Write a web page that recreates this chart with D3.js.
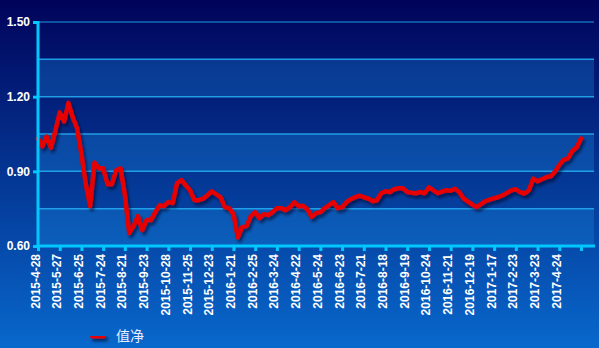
<!DOCTYPE html>
<html>
<head>
<meta charset="utf-8">
<script src="https://cdn.jsdelivr.net/npm/d3@7"></script>
<style>
  body { margin: 0; padding: 0; overflow: hidden; }
  svg { display: block; }
</style>
</head>
<body>
<div id="chart"></div>
<script>
// ******************************DATA*******************************************
// tick labels (one every 5 points)
var tickLabels = ["2015-4-28", "2015-5-27", "2015-6-25", "2015-7-24", "2015-8-21",
  "2015-9-23", "2015-10-28", "2015-11-25", "2015-12-23", "2016-1-21",
  "2016-2-25", "2016-3-24", "2016-4-22", "2016-5-24", "2016-6-23",
  "2016-7-21", "2016-8-18", "2016-9-19", "2016-10-24", "2016-11-21",
  "2016-12-19", "2017-1-17", "2017-2-23", "2017-3-23", "2017-4-24"];

// net value series
var netValues = [
  1.032, 1.000, 1.040, 0.995, 1.064, 1.137, 1.100, 1.175, 1.117, 1.072,
  0.968, 0.848, 0.760, 0.935, 0.912, 0.912, 0.848, 0.848, 0.904, 0.912,
  0.804, 0.652, 0.680, 0.720, 0.664, 0.704, 0.704, 0.736, 0.764, 0.760,
  0.777, 0.772, 0.852, 0.865, 0.844, 0.824, 0.784, 0.784, 0.790, 0.804,
  0.820, 0.808, 0.796, 0.756, 0.752, 0.728, 0.635, 0.676, 0.680, 0.720,
  0.736, 0.712, 0.728, 0.724, 0.736, 0.752, 0.752, 0.744, 0.756, 0.776,
  0.760, 0.762, 0.748, 0.717, 0.732, 0.736, 0.752, 0.764, 0.776, 0.752,
  0.756, 0.776, 0.788, 0.796, 0.802, 0.796, 0.791, 0.780, 0.784, 0.812,
  0.820, 0.817, 0.828, 0.832, 0.832, 0.817, 0.814, 0.812, 0.817, 0.812,
  0.836, 0.824, 0.812, 0.818, 0.824, 0.822, 0.830, 0.816, 0.790, 0.778,
  0.766, 0.757, 0.768, 0.780, 0.786, 0.792, 0.797, 0.804, 0.814, 0.824,
  0.828, 0.816, 0.811, 0.824, 0.871, 0.860, 0.868, 0.876, 0.880, 0.898,
  0.926, 0.946, 0.952, 0.982, 0.997, 1.032];

var yTickValues = [0.60, 0.90, 1.20, 1.50];
var gridValues = [0.60, 0.75, 0.90, 1.05, 1.20, 1.35, 1.50];
var legendLabel = "值净";

// ***************************CANVAS SET UP*************************************
var svgWidth = 599,
    svgHeight = 348;

var svg = d3.select("#chart")
  .append("svg")
    .attr("width", svgWidth)
    .attr("height", svgHeight);

var defs = svg.append("defs");

// background gradient: navy at the top, blue at the bottom
var bg = defs.append("linearGradient")
  .attr("id", "bgGrad")
  .attr("x1", 0).attr("y1", 0).attr("x2", 0).attr("y2", 1);
bg.append("stop").attr("offset", "0%").attr("stop-color", "#00035a");
bg.append("stop").attr("offset", "100%").attr("stop-color", "#0868cc");

// drop shadow for the line (user space so flat shapes keep it too)
var shadow = defs.append("filter")
  .attr("id", "shadow")
  .attr("filterUnits", "userSpaceOnUse")
  .attr("x", 0).attr("y", 0)
  .attr("width", svgWidth).attr("height", svgHeight);
shadow.append("feDropShadow")
  .attr("dx", 2).attr("dy", 3)
  .attr("stdDeviation", 1.6)
  .attr("flood-color", "#000020")
  .attr("flood-opacity", 0.55);

svg.append("rect")
  .attr("width", svgWidth)
  .attr("height", svgHeight)
  .attr("fill", "url(#bgGrad)");

// ******************************SCALES*****************************************
var plotLeft = 38, plotRight = 594;

var xScale = d3.scaleLinear()
  .domain([0, netValues.length - 1])
  .range([38, 581]);

var yScale = d3.scaleLinear()
  .domain([0.60, 1.50])
  .range([246, 22]);

// ******************************BANDS & GRID***********************************
var bandPairs = d3.pairs(gridValues).filter((p, i) => i % 2 === 0);

svg.selectAll(".band")
  .data(bandPairs)
  .enter()
  .append("rect")
    .attr("x", plotLeft)
    .attr("width", plotRight - plotLeft)
    .attr("y", d => yScale(d[1]))
    .attr("height", d => yScale(d[0]) - yScale(d[1]))
    .attr("fill", "#1c8ee6")
    .attr("opacity", 0.3);

svg.selectAll(".grid")
  .data(gridValues.slice(1))
  .enter()
  .append("line")
    .attr("x1", plotLeft)
    .attr("x2", plotRight)
    .attr("y1", d => yScale(d))
    .attr("y2", d => yScale(d))
    .attr("stroke", "#22aaf0")
    .attr("stroke-width", 1.5)
    .attr("opacity", d => d === 1.50 ? 0.6 : 0.9);

// ******************************LINE*******************************************
var line = d3.line()
  .x((d, i) => xScale(i))
  .y(d => yScale(d));

svg.append("path")
  .datum(netValues)
  .attr("d", line)
  .attr("fill", "none")
  .attr("stroke", "#e60000")
  .attr("stroke-width", 4.5)
  .attr("stroke-linejoin", "round")
  .attr("stroke-linecap", "round")
  .attr("filter", "url(#shadow)");

// ******************************AXES*******************************************
var axisColor = "#00c8ff";

var yAxis = svg.append("g")
  .attr("transform", `translate(${plotLeft}, 0)`)
  .call(d3.axisLeft(yScale)
    .tickValues(yTickValues)
    .tickFormat(d3.format(".2f"))
    .tickSize(5)
    .tickPadding(3));

yAxis.select(".domain").remove();
yAxis.append("line")
  .attr("y1", 21).attr("y2", 247)
  .attr("stroke", axisColor).attr("stroke-width", 3);
yAxis.selectAll(".tick line")
  .attr("stroke", axisColor).attr("stroke-width", 3);
yAxis.selectAll(".tick text")
  .attr("fill", "#ffffff")
  .style("font-family", "'Liberation Sans', Arial, sans-serif")
  .style("font-size", "12px")
  .style("font-weight", "bold");

var xTicks = d3.range(0, netValues.length, 5);

var xAxis = svg.append("g")
  .attr("transform", `translate(0, 246)`)
  .call(d3.axisBottom(xScale)
    .tickValues(xTicks)
    .tickFormat(d => tickLabels[d / 5] || "")
    .tickSize(5));

xAxis.select(".domain").remove();
xAxis.append("line")
  .attr("x1", plotLeft - 1).attr("x2", plotRight + 1)
  .attr("stroke", axisColor).attr("stroke-width", 3);
xAxis.selectAll(".tick line")
  .attr("stroke", axisColor).attr("stroke-width", 3);
xAxis.selectAll(".tick text")
  .attr("fill", "#ffffff")
  .attr("text-anchor", "end")
  .attr("transform", "rotate(-90)")
  .attr("x", -8)
  .attr("y", 1)
  .attr("dy", "0")
  .style("font-family", "'Liberation Sans', Arial, sans-serif")
  .style("font-size", "12px")
  .style("font-weight", "bold");

// ******************************LEGEND*****************************************
var legend = svg.append("g")
  .attr("transform", "translate(90, 336)");

legend.append("rect")
  .attr("x", 0).attr("y", -2.5)
  .attr("width", 16).attr("height", 5)
  .attr("rx", 2.5)
  .attr("fill", "#e60000")
  .attr("filter", "url(#shadow)");

legend.append("text")
  .attr("x", 26)
  .attr("y", 0)
  .attr("dy", "0.36em")
  .attr("fill", "#e8eeff")
  .style("font-family", "'Noto Sans CJK SC', sans-serif")
  .style("font-size", "14px")
  .text(legendLabel);
</script>
</body>
</html>
